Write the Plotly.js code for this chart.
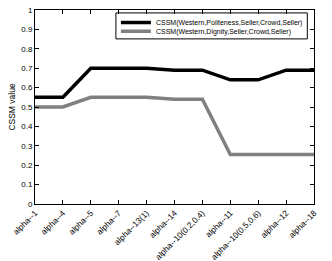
<!DOCTYPE html>
<html><head><meta charset="utf-8">
<script src="https://cdn.plot.ly/plotly-3.0.1.min.js"></script>
<style>html,body{margin:0;padding:0;background:#fff}#c{width:332px;height:261px}</style>
</head><body><div id="c"></div>
<script>
const categories = ["alpha--1","alpha--4","alpha--5","alpha--7","alpha--13(1)","alpha--14","alpha--10(0.2,0.4)","alpha--11","alpha--10(0.5,0.6)","alpha--12","alpha--18"];
const politeness = [0.55,0.55,0.70,0.70,0.70,0.69,0.69,0.64,0.64,0.69,0.69];
const dignity = [0.50,0.50,0.55,0.55,0.55,0.54,0.54,0.255,0.255,0.255,0.255];
const seriesNames = ["CSSM(Western,Politeness,Seller,Crowd,Seller)","CSSM(Western,Dignity,Seller,Crowd,Seller)"];
const yTicks = [0,0.1,0.2,0.3,0.4,0.5,0.6,0.7,0.8,0.9,1];
const idx = categories.map((c,i)=>i);
const F = 'Liberation Sans, Arial, sans-serif';
const data = [
 {x: idx, y: politeness, type:'scatter', mode:'lines', name: seriesNames[0], legend:'legend', line:{color:'#000000', width:3.5}},
 {x: idx, y: dignity, type:'scatter', mode:'lines', name: seriesNames[1], legend:'legend2', line:{color:'#808080', width:3.5}}
];
const ax = {showline:true, mirror:'ticks', linecolor:'#000', linewidth:1, ticks:'inside', ticklen:4, tickcolor:'#000', showgrid:false, zeroline:false, tickfont:{family:F, size:8, color:'#000'}};
const legBase = {xanchor:'left', yanchor:'top', bgcolor:'rgba(0,0,0,0)', borderwidth:0, font:{family:F, size:7, color:'#000'}, itemwidth:30};
const layout = {
 width:332, height:261, margin:{l:35,r:18,t:9,b:57},
 paper_bgcolor:'#fff', plot_bgcolor:'#fff',
 showlegend:true,
 legend: Object.assign({}, legBase, {x:0.29, y:1.005}),
 legend2: Object.assign({}, legBase, {x:0.29, y:0.96}),
 shapes:[{type:'rect', xref:'paper', yref:'paper', x0:0.290, x1:0.976, y0:0.851, y1:0.985, line:{color:'#000', width:1}, fillcolor:'#fff', layer:'below'}],
 xaxis: Object.assign({}, ax, {range:[0,10], tickmode:'array', tickvals: idx, ticktext: categories, tickangle:-45, tickfont:{family:F, size:8.3, color:'#000'}}),
 yaxis: Object.assign({}, ax, {range:[0,1], tickmode:'array', tickvals: yTicks, ticktext: yTicks.map(String), title:{text:'CSSM value', font:{family:F, size:8.5, color:'#000'}, standoff:4}})
};
Plotly.newPlot('c', data, layout, {displayModeBar:false, staticPlot:true});
</script></body></html>
